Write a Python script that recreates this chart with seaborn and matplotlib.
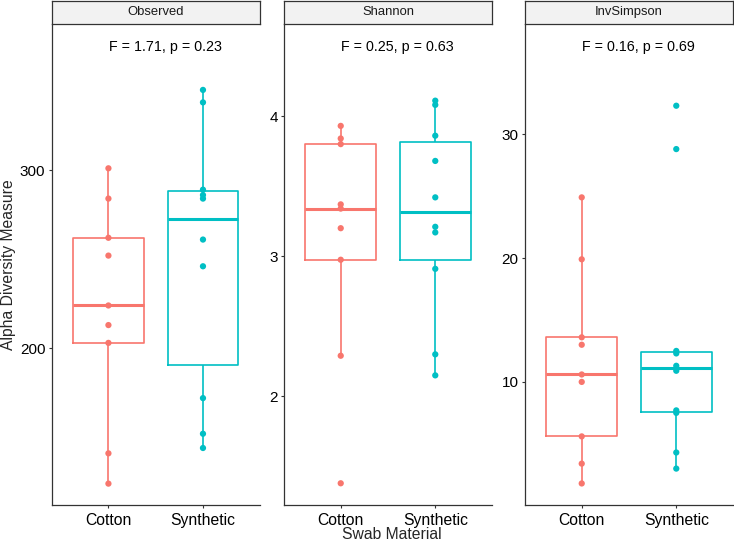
import pandas as pd
import matplotlib
matplotlib.use("Agg")
import matplotlib.pyplot as plt
import seaborn as sns

sns.set_theme(style="ticks")
plt.rcParams['font.family'] = ['Liberation Sans', 'DejaVu Sans']

# Data
metrics = ['Observed', 'Shannon', 'InvSimpson']
materials = ['Cotton', 'Synthetic']
stat_labels = ['F = 1.71, p = 0.23', 'F = 0.25, p = 0.63', 'F = 0.16, p = 0.69']

observed_cotton = [301, 284, 262, 252, 224, 213, 203, 141, 124]
observed_synthetic = [345, 338, 289, 286, 284, 261, 246, 172, 152, 144]
shannon_cotton = [3.93, 3.84, 3.80, 3.37, 3.34, 3.20, 2.975, 2.29, 1.38]
shannon_synthetic = [4.11, 4.08, 3.86, 3.68, 3.42, 3.21, 3.17, 2.91, 2.30, 2.15]
invsimpson_cotton = [24.9, 19.9, 13.6, 13.0, 10.6, 10.0, 5.6, 3.4, 1.8]
invsimpson_synthetic = [32.3, 28.8, 12.5, 12.3, 11.3, 10.9, 7.7, 7.5, 4.3, 3.0]

y_ticks = [[200, 300], [2, 3, 4], [10, 20, 30]]
y_limits = [(112, 382), (1.225, 4.657), (0.06, 38.9)]

palette = {'Cotton': '#F8766D', 'Synthetic': '#00BFC4'}

# Build a long table
values = {
    'Observed': (observed_cotton, observed_synthetic),
    'Shannon': (shannon_cotton, shannon_synthetic),
    'InvSimpson': (invsimpson_cotton, invsimpson_synthetic),
}
rows = []
for m in metrics:
    for mat, vals in zip(materials, values[m]):
        for v in vals:
            rows.append({'metric': m, 'material': mat, 'value': v})
df = pd.DataFrame(rows)

fig = plt.figure(figsize=(7.34, 5.43), dpi=100)

lefts = [51.7 / 734, 284 / 734, 525 / 734]
width = 208 / 734
bottom = 1 - 505 / 543
top = 1 - 24 / 543
strip_top = 1 - 0.7 / 543

for i, m in enumerate(metrics):
    ax = fig.add_axes([lefts[i], bottom, width, top - bottom])
    sub = df[df['metric'] == m]

    sns.boxplot(data=sub, x='material', y='value', hue='material', order=materials,
                palette=palette, fill=False, width=0.75, showfliers=False,
                showcaps=False, linewidth=1.2, medianprops={'linewidth': 2.2},
                whis=1.5, legend=False, ax=ax)
    sns.stripplot(data=sub, x='material', y='value', hue='material', order=materials,
                  palette=palette, jitter=False, size=4.5, legend=False, ax=ax, zorder=3)

    ax.set_xlim(-0.6, 1.6)
    ax.set_ylim(*y_limits[i])
    ax.set_yticks(y_ticks[i])
    ax.set_xlabel('')
    ax.set_ylabel('')
    ax.set_facecolor('white')
    for side in ['top', 'right']:
        ax.spines[side].set_visible(False)
    for side in ['left', 'bottom']:
        ax.spines[side].set_color('#333333')
        ax.spines[side].set_linewidth(0.9)
    ax.tick_params(axis='x', labelsize=11.3, length=2.5, width=0.8, color='#333333',
                   pad=3, labelcolor='black')
    ax.tick_params(axis='y', labelsize=11, length=2.5, width=0.8, color='#333333',
                   pad=2, labelcolor='black')

    ax.text(0.6, 0.953, stat_labels[i], transform=ax.get_xaxis_transform(),
            ha='center', va='center', fontsize=10.3, color='black')

    # facet strip
    sax = fig.add_axes([lefts[i], top, width, strip_top - top])
    sax.set_facecolor('#F2F2F2')
    sax.set_xticks([])
    sax.set_yticks([])
    for sp in sax.spines.values():
        sp.set_color('#333333')
        sp.set_linewidth(0.9)
    sax.text(0.5, 0.5, m, ha='center', va='center', fontsize=9.4, color='#1A1A1A',
             transform=sax.transAxes)

fig.text(0.001, 1 - 264.5 / 543, 'Alpha Diversity Measure', rotation=90,
         ha='left', va='center', fontsize=11.3)
fig.text(392 / 734, 0.001, 'Swab Material', ha='center', va='bottom', fontsize=11.3)

plt.savefig('out.png', dpi=100, facecolor='white')
plt.close()
